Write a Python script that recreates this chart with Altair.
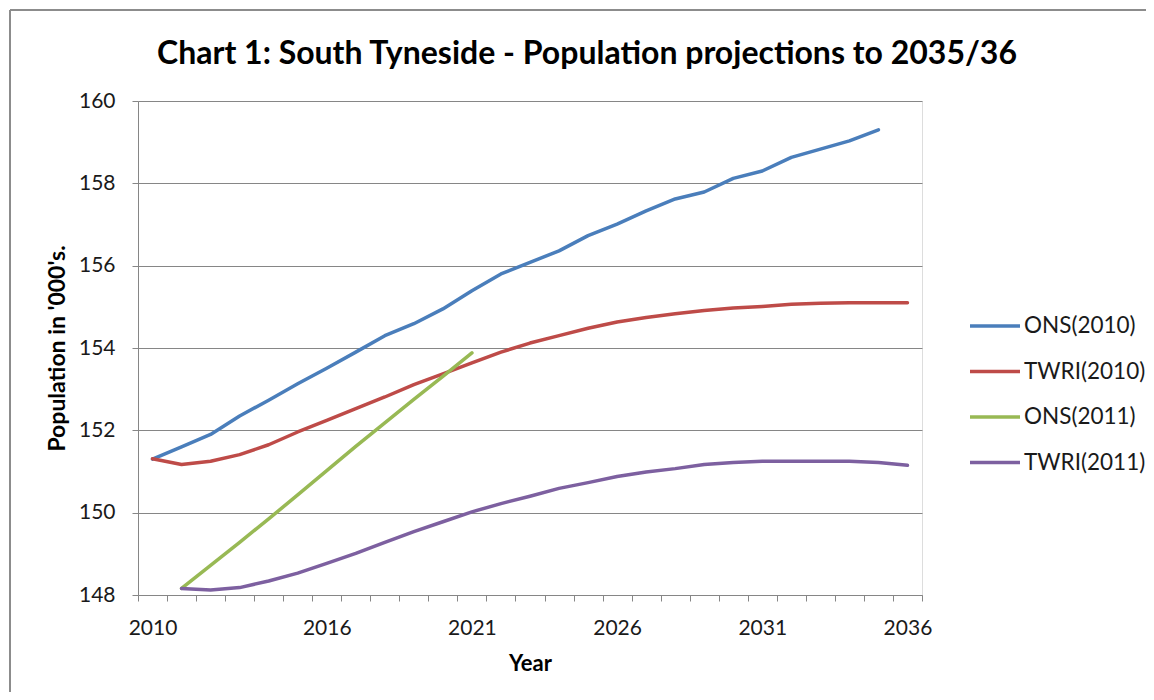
import altair as alt
import pandas as pd

# ---- data ----
series_names = ["ONS(2010)", "TWRI(2010)", "ONS(2011)", "TWRI(2011)"]
series_colors = ["#4A7EBB", "#BE4B48", "#98B954", "#7D60A0"]

years_ons2010 = list(range(2010, 2036))
ons2010 = [151.3, 151.6, 151.9, 152.35, 152.73, 153.13, 153.51, 153.9, 154.3, 154.59,
           154.95, 155.39, 155.8, 156.08, 156.36, 156.73, 157.01, 157.33, 157.62, 157.79,
           158.12, 158.3, 158.63, 158.83, 159.03, 159.3]

years_twri2010 = list(range(2010, 2037))
twri2010 = [151.31, 151.17, 151.25, 151.41, 151.65, 151.96, 152.24, 152.53, 152.81, 153.11,
            153.37, 153.64, 153.9, 154.12, 154.3, 154.48, 154.63, 154.74, 154.83, 154.91,
            154.97, 155.01, 155.06, 155.09, 155.1, 155.1, 155.1]

years_ons2011 = list(range(2011, 2022))
ons2011 = [148.16, 148.72, 149.28, 149.85, 150.43, 151.02, 151.61, 152.18, 152.75, 153.31, 153.88]

years_twri2011 = list(range(2011, 2037))
twri2011 = [148.16, 148.12, 148.18, 148.34, 148.53, 148.77, 149.01, 149.28, 149.54, 149.78,
            150.02, 150.22, 150.4, 150.59, 150.73, 150.88, 150.99, 151.07, 151.17, 151.22,
            151.25, 151.25, 151.25, 151.25, 151.22, 151.15]

x_label_years = [2010, 2016, 2021, 2026, 2031, 2036]
y_ticks = [148, 150, 152, 154, 156, 158, 160]
all_years = list(range(2010, 2037))

rows = []
for name, ys, vs in [
    (series_names[0], years_ons2010, ons2010),
    (series_names[1], years_twri2010, twri2010),
    (series_names[2], years_ons2011, ons2011),
    (series_names[3], years_twri2011, twri2011),
]:
    for y, v in zip(ys, vs):
        rows.append({"Year": y, "Population": v, "Series": name})
df = pd.DataFrame(rows)

# category boundaries (ticks sit between years, like a category axis)
tick_values = [y - 0.5 for y in all_years] + [all_years[-1] + 0.5]

FONT = "Lato"
W, H = 784, 494
step_px = W / len(all_years)

label_list = ",".join(str(v) for v in x_label_years)
label_expr = (
    f"indexof([{label_list}], round(datum.value + 0.5)) >= 0 ? "
    "format(datum.value + 0.5, 'd') : ''"
)

lines = alt.Chart(df).mark_line(strokeWidth=3.5, strokeCap="round", strokeJoin="round").encode(
    x=alt.X(
        "Year:Q",
        scale=alt.Scale(domain=[tick_values[0], tick_values[-1]], nice=False, zero=False),
        axis=alt.Axis(
            title="Year",
            values=tick_values,
            labelExpr=label_expr,
            labelOffset=step_px / 2,
            labelOverlap=False,
            labelFlush=False,
            grid=False,
            tickSize=6,
            tickColor="#868686",
            domainColor="#868686",
            labelFont=FONT,
            labelFontSize=21,
            labelColor="#1a1a1a",
            labelPadding=16,
            titleFont=FONT,
            titleFontSize=22,
            titleFontWeight="bold",
            titleColor="#000000",
            titlePadding=15,
        ),
    ),
    y=alt.Y(
        "Population:Q",
        scale=alt.Scale(domain=[148, 160], nice=False, zero=False),
        axis=alt.Axis(
            title="Population in '000's.",
            values=y_ticks,
            grid=True,
            gridColor="#868686",
            gridWidth=1,
            tickSize=6,
            tickColor="#868686",
            domainColor="#868686",
            labelFont=FONT,
            labelFontSize=21,
            labelColor="#1a1a1a",
            labelPadding=17,
            titleFont=FONT,
            titleFontSize=23,
            titleFontWeight="bold",
            titleColor="#000000",
            titlePadding=9,
        ),
    ),
    color=alt.Color(
        "Series:N",
        scale=alt.Scale(domain=series_names, range=series_colors),
        sort=series_names,
        legend=alt.Legend(
            title=None,
            orient="none",
            legendX=830,
            legendY=198,
            symbolType="stroke",
            symbolSize=2500,
            symbolStrokeWidth=3.5,
            labelFont=FONT,
            labelFontSize=22.5,
            labelColor="#1a1a1a",
            labelOffset=2,
            rowPadding=6.5,
            padding=0,
        ),
    ),
    order="Year:Q",
)

# outer chart frame (left and top edges; the rest runs past the picture)
frame_left = alt.Chart(alt.Data(values=[{}])).mark_rule(
    stroke="#8c8c8c", strokeWidth=2
).encode(x=alt.value(-128), y=alt.value(-91), y2=alt.value(700))

frame_top = alt.Chart(alt.Data(values=[{}])).mark_rule(
    stroke="#8c8c8c", strokeWidth=2
).encode(x=alt.value(-128), x2=alt.value(1200), y=alt.value(-91))

chart = alt.layer(lines, frame_left, frame_top).properties(
    width=W,
    height=H,
    padding={"left": 130, "top": 93, "right": 224, "bottom": 97},
    autosize=alt.AutoSizeParams(type="none"),
    title=alt.Title(
        "Chart 1: South Tyneside - Population projections to 2035/36",
        font=FONT,
        fontSize=32,
        fontWeight="bold",
        color="#000000",
        anchor="middle",
        frame="group",
        baseline="alphabetic",
        offset=0,
        dy=87,
        dx=57,
    ),
).configure_view(stroke=None).configure(background="white")

chart.save("out.html", embed_options={"renderer": "svg", "actions": False})
